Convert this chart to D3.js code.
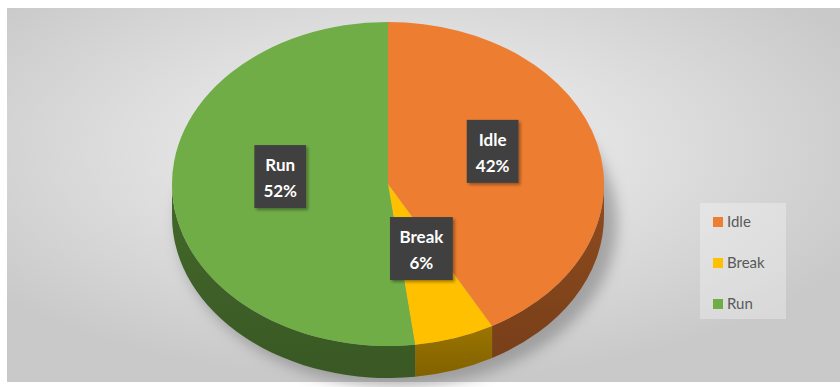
<!DOCTYPE html>
<html>
<head>
<meta charset="utf-8">
<style>
  html, body { margin: 0; padding: 0; background: #fff; }
  svg { display: block; }
</style>
</head>
<body>
<script src="https://d3js.org/d3.v7.min.js"></script>
<script>
// data
const categories = ["Idle", "Break", "Run"];
const shares = [42, 6, 52];
const colours = ["#ED7D31", "#FFC000", "#70AD47"];

const W = 840, H = 387;
const cx = 388, cy = 184, rx = 216, ry = 162, depth = 32;

const svg = d3.select("body").append("svg").attr("width", W).attr("height", H);
const defs = svg.append("defs");

const bg = defs.append("radialGradient").attr("id", "bg")
  .attr("cx", "0.47").attr("cy", "0.38").attr("r", "0.62");
bg.append("stop").attr("offset", "0").attr("stop-color", "#f4f4f4");
bg.append("stop").attr("offset", "1").attr("stop-color", "#c9c9c9");

const blur = defs.append("filter").attr("id", "blur")
  .attr("x", "-20%").attr("y", "-20%").attr("width", "140%").attr("height", "140%");
blur.append("feGaussianBlur").attr("stdDeviation", 7);

const lblShadow = defs.append("filter").attr("id", "lshadow")
  .attr("x", "-20%").attr("y", "-20%").attr("width", "150%").attr("height", "150%");
lblShadow.append("feDropShadow").attr("dx", 2).attr("dy", 2).attr("stdDeviation", 1.5)
  .attr("flood-color", "#000").attr("flood-opacity", 0.35);

// chart area
svg.append("rect").attr("x", 7).attr("y", 8).attr("width", W - 7).attr("height", 374)
  .attr("fill", "url(#bg)");

const colour = d3.scaleOrdinal().domain(categories).range(colours);
const pie = d3.pie().sort(null).value(d => d.v);
const arcs = pie(categories.map((c, i) => ({ c, v: shares[i] })));

const pt = (a, dy = 0) => [cx + rx * Math.sin(a), cy - ry * Math.cos(a) + dy];

// soft shadow under the pie
svg.append("ellipse")
  .attr("cx", cx + 9).attr("cy", cy + depth + 7)
  .attr("rx", rx + 4).attr("ry", ry + 2)
  .attr("fill", "#6e6e6e").attr("opacity", 0.5)
  .attr("filter", "url(#blur)");

// side walls (front half only)
const sides = svg.append("g");
arcs.forEach(d => {
  const s0 = Math.max(d.startAngle, Math.PI / 2);
  const s1 = Math.min(d.endAngle, 3 * Math.PI / 2);
  if (s0 >= s1) return;
  const p0 = pt(s0), p1 = pt(s1), q0 = pt(s0, depth), q1 = pt(s1, depth);
  const large = s1 - s0 > Math.PI ? 1 : 0;
  const base = d3.color(colour(d.data.c));
  const id = "side" + d.index;
  const g = defs.append("linearGradient").attr("id", id).attr("x1", 0).attr("y1", 0).attr("x2", 0).attr("y2", 1);
  g.append("stop").attr("offset", 0).attr("stop-color", base.darker(1.4));
  g.append("stop").attr("offset", 1).attr("stop-color", base.darker(1.9));
  sides.append("path")
    .attr("d", `M${p0}A${rx},${ry} 0 ${large} 1 ${p1}L${q1}A${rx},${ry} 0 ${large} 0 ${q0}Z`)
    .attr("fill", `url(#${id})`);
});

// top faces
svg.append("g").selectAll("path").data(arcs).join("path")
  .attr("d", d => {
    const p0 = pt(d.startAngle), p1 = pt(d.endAngle);
    const large = d.endAngle - d.startAngle > Math.PI ? 1 : 0;
    return `M${cx},${cy}L${p0}A${rx},${ry} 0 ${large} 1 ${p1}Z`;
  })
  .attr("fill", d => colour(d.data.c));

// data labels
const total = d3.sum(shares);
const labels = svg.append("g").selectAll("g").data(arcs).join("g")
  .attr("transform", d => {
    const m = (d.startAngle + d.endAngle) / 2;
    const [x, y] = pt(m);
    return `translate(${cx + (x - cx) * 0.5},${cy + (y - cy) * 0.5 - 13})`;
  });
labels.each(function (d) {
  const g = d3.select(this);
  const rect = g.append("rect").attr("fill", "#404040").attr("filter", "url(#lshadow)");
  const t = g.append("text").attr("text-anchor", "middle")
    .attr("font-family", "Lato, 'Open Sans', sans-serif").attr("font-weight", "bold")
    .attr("font-size", 17).attr("fill", "#fff");
  t.append("tspan").attr("x", 0).attr("y", -5).text(d.data.c);
  t.append("tspan").attr("x", 0).attr("y", 21).text(Math.round(d.data.v / total * 100) + "%");
  const bb = t.node().getBBox();
  const w = bb.width + 18;
  rect.attr("x", -w / 2).attr("y", -31).attr("width", w).attr("height", 63);
});

// legend
const leg = svg.append("g");
leg.append("rect").attr("x", 700).attr("y", 203).attr("width", 86).attr("height", 116)
  .attr("fill", "#fff").attr("opacity", 0.3);
const legY = d3.scalePoint().domain(categories).range([222, 304]);
const item = leg.selectAll("g.item").data(categories).join("g").attr("class", "item")
  .attr("transform", c => `translate(713,${legY(c)})`);
item.append("rect").attr("x", 0).attr("y", -5).attr("width", 10).attr("height", 10)
  .attr("fill", c => colour(c));
item.append("text").attr("x", 14).attr("y", 5)
  .attr("font-family", "Lato, 'Open Sans', sans-serif").attr("font-size", 15)
  .attr("fill", "#595959").text(c => c);
</script>
</body>
</html>
